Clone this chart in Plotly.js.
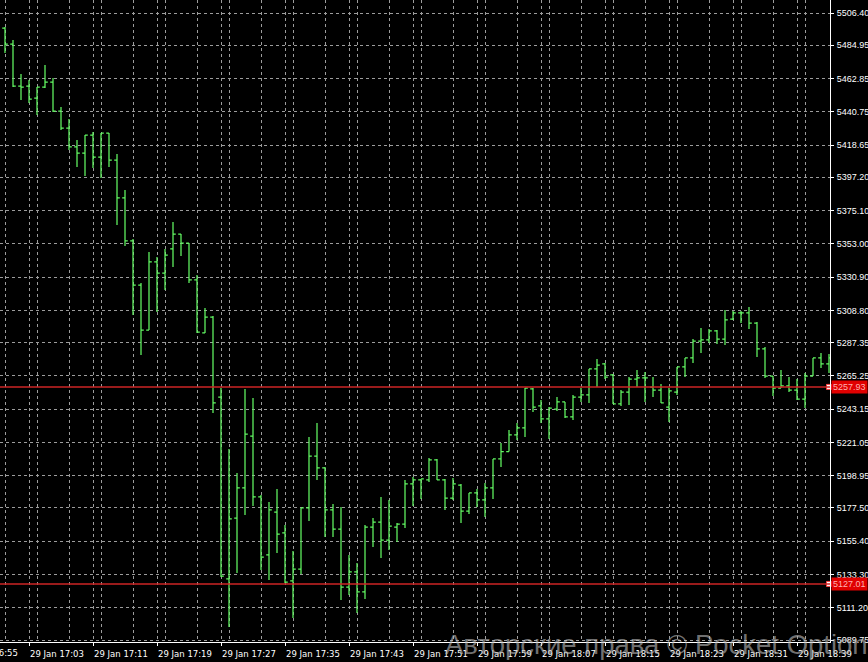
<!DOCTYPE html>
<html>
<head>
<meta charset="utf-8">
<script src="https://cdn.plot.ly/plotly-3.0.1.min.js"></script>
<style>html,body{margin:0;padding:0;background:#000;}#chart{width:868px;height:662px;}</style>
</head>
<body>
<div id="chart"></div>
<script>
const day = "2024-01-29";
const times = ["17:00","17:01","17:02","17:03","17:04","17:05","17:06","17:07","17:08","17:09",
"17:10","17:11","17:12","17:13","17:14","17:15","17:16","17:17","17:18","17:19",
"17:20","17:21","17:22","17:23","17:24","17:25","17:26","17:27","17:28","17:29",
"17:30","17:31","17:32","17:33","17:34","17:35","17:36","17:37","17:38","17:39",
"17:40","17:41","17:42","17:43","17:44","17:45","17:46","17:47","17:48","17:49",
"17:50","17:51","17:52","17:53","17:54","17:55","17:56","17:57","17:58","17:59",
"18:00","18:01","18:02","18:03","18:04","18:05","18:06","18:07","18:08","18:09",
"18:10","18:11","18:12","18:13","18:14","18:15","18:16","18:17","18:18","18:19",
"18:20","18:21","18:22","18:23","18:24","18:25","18:26","18:27","18:28","18:29",
"18:30","18:31","18:32","18:33","18:34","18:35","18:36","18:37","18:38","18:39",
"18:40","18:41","18:42","18:43"];

const open = [5496.43,5485.80,5457.89,5457.89,5449.92,5457.23,5460.55,5441.28,5429.98,5417.36,
5413.37,5425.33,5410.71,5426.66,5408.72,5383.47,5354.90,5325.65,5295.75,5340.94,
5333.63,5349.58,5359.54,5353.56,5328.98,5293.76,5304.39,5251.23,5130.29,5170.82,
5190.76,5225.31,5184.78,5146.24,5174.81,5160.86,5128.96,5136.93,5177.47,5211.99,
5204.05,5176.14,5163.51,5124.97,5134.94,5121.65,5164.84,5168.16,5156.20,5164.84,
5166.83,5193.42,5196.08,5196.08,5209.37,5196.08,5184.11,5192.75,5175.47,5187.44,
5182.79,5190.76,5210.03,5215.01,5225.98,5230.63,5256.55,5245.25,5236.63,5243.25,
5247.91,5237.94,5251.23,5252.56,5269.84,5273.16,5265.85,5246.58,5254.55,5263.19,
5263.86,5257.87,5255.88,5244.58,5254.55,5271.17,5277.15,5288.44,5289.11,5295.09,
5289.77,5303.06,5307.05,5307.05,5300.40,5283.13,5265.18,5257.21,5258.54,5255.88,
5249.90,5265.18,5277.15,5273.16];

const high = [5497.10,5488.46,5465.87,5461.88,5457.23,5471.85,5463.21,5443.94,5435.96,5422.01,
5425.33,5427.32,5426.66,5426.66,5412.70,5388.80,5356.22,5326.98,5347.58,5344.26,
5349.58,5367.52,5359.54,5353.56,5332.30,5310.37,5305.06,5257.21,5216.68,5200.73,
5256.55,5250.56,5186.11,5181.46,5190.10,5166.17,5148.89,5177.47,5224.65,5233.96,
5204.72,5180.13,5178.13,5146.24,5140.92,5166.17,5170.82,5184.78,5182.79,5167.50,
5196.08,5198.07,5196.74,5210.69,5210.03,5196.74,5197.40,5193.42,5187.44,5190.10,
5194.08,5210.03,5220.64,5229.34,5233.96,5257.21,5257.21,5249.24,5244.58,5251.23,
5247.91,5252.56,5257.21,5269.84,5276.48,5273.82,5266.51,5255.88,5264.52,5269.17,
5267.84,5264.52,5259.87,5257.21,5271.17,5277.15,5289.77,5297.08,5296.42,5295.75,
5309.04,5308.38,5308.38,5311.03,5301.07,5284.46,5265.18,5269.17,5264.52,5263.19,
5267.18,5277.15,5280.46,5279.78];

const low = [5479.82,5457.23,5448.59,5446.60,5438.62,5456.56,5440.61,5428.65,5415.36,5404.07,
5398.09,5403.40,5396.76,5404.07,5365.53,5351.57,5305.72,5279.14,5295.75,5307.71,
5322.33,5337.60,5344.93,5326.98,5293.76,5293.76,5240.60,5131.62,5098.39,5134.28,
5172.82,5178.80,5136.27,5129.62,5147.56,5127.63,5104.37,5133.61,5168.83,5196.08,
5158.20,5158.20,5116.33,5119.66,5107.70,5117.00,5151.55,5144.24,5149.56,5154.88,
5164.18,5178.80,5183.45,5194.75,5196.08,5176.14,5182.79,5167.50,5173.48,5178.13,
5171.49,5183.45,5204.72,5215.01,5222.64,5224.65,5241.26,5233.96,5223.31,5241.93,
5237.29,5235.95,5247.91,5247.25,5257.87,5263.19,5246.58,5245.25,5245.91,5257.87,
5247.91,5251.23,5247.25,5234.62,5252.56,5264.52,5273.82,5280.46,5287.11,5286.45,
5285.78,5302.40,5300.40,5296.42,5277.81,5263.86,5251.89,5257.21,5254.55,5249.24,
5243.92,5265.18,5270.50,5267.18];

const close = [5485.80,5457.89,5457.23,5449.25,5457.23,5460.55,5441.28,5429.98,5417.36,5413.37,
5425.33,5410.71,5426.66,5408.72,5383.47,5354.90,5325.65,5295.75,5340.94,5333.63,
5345.59,5359.54,5353.56,5328.98,5294.42,5304.39,5247.25,5132.28,5170.16,5190.76,
5226.64,5184.78,5144.90,5176.14,5160.19,5128.29,5136.93,5177.47,5211.99,5204.05,
5176.14,5163.51,5124.97,5134.94,5121.65,5164.84,5168.16,5156.20,5165.50,5166.83,
5193.42,5196.08,5196.74,5209.37,5196.08,5184.11,5193.42,5175.47,5187.44,5182.79,
5190.76,5210.03,5215.01,5225.98,5230.63,5257.21,5244.58,5236.63,5243.92,5247.91,
5237.94,5251.23,5252.56,5269.84,5272.49,5264.52,5246.58,5254.55,5263.19,5263.86,
5263.86,5255.88,5247.25,5255.22,5271.17,5277.15,5288.44,5289.11,5295.09,5289.77,
5302.40,5307.05,5307.05,5300.40,5283.13,5265.18,5257.21,5258.54,5255.88,5249.90,
5265.18,5277.15,5273.16,5277.15];

const yTicks = [5506.40,5484.95,5462.85,5440.75,5418.65,5397.20,5375.10,5353.00,5330.90,5308.80,
5287.35,5265.25,5243.15,5221.05,5198.95,5177.50,5155.40,5133.30,5111.20,5089.75];

const levels = [5257.93, 5127.01];
const firstLabel = "29 Jan 16:55";
const watermark = "Авторские права © Pocket Option";

const x = times.map(t => day + " " + t);
const GREEN = "#62f862";
const GRID = "#9c9c9c";
const FONT = "DejaVu Sans";
const YFONT = "Liberation Sans";

const traces = [{
  type: "ohlc",
  x: x, open: open, high: high, low: low, close: close,
  increasing: {line: {color: GREEN, width: 1.25}},
  decreasing: {line: {color: GREEN, width: 1.25}},
  tickwidth: 0.35,
  hoverinfo: "skip"
}, {
  type: "scatter", mode: "markers",
  x: levels.map(() => x[x.length - 1]), y: levels,
  marker: {symbol: "square", size: 5, color: "#ffffff", line: {color: "#ff4040", width: 1}},
  hoverinfo: "skip", cliponaxis: false
}];

const shapes = levels.map(v => ({
  type: "line", xref: "paper", x0: 0, x1: 1, yref: "y", y0: v, y1: v,
  line: {color: "#cc2424", width: 1.5}, layer: "above"
}));

const annotations = levels.map(v => ({
  xref: "paper", x: 1, xanchor: "left", xshift: 1,
  yref: "y", y: v, yanchor: "middle",
  text: v.toFixed(2), showarrow: false,
  bgcolor: "#e00000", borderpad: 1,
  font: {family: YFONT, size: 9, color: "#ffb0b0"}
}));
annotations.push({
  xref: "paper", x: 0, xanchor: "left", xshift: -38,
  yref: "paper", y: 0, yanchor: "top", yshift: -4,
  text: firstLabel, showarrow: false,
  font: {family: FONT, size: 8.5, color: "#ffffff"}
});
annotations.push({
  xref: "paper", x: 1, xanchor: "right", xshift: 40,
  yref: "paper", y: 0, yanchor: "middle", yshift: -2,
  text: watermark, showarrow: false,
  font: {family: "Liberation Sans", size: 27.5, color: "rgba(190,190,190,0.6)"}
});

const layout = {
  width: 868, height: 662,
  paper_bgcolor: "#000000", plot_bgcolor: "#000000",
  margin: {l: 0, r: 38, t: 0, b: 20},
  showlegend: false,
  hovermode: false,
  xaxis: {
    type: "date",
    range: [day + " 16:59:22.5", day + " 18:43:07.5"],
    tick0: day + " 16:55", dtick: 480000,
    tickformat: "%d %b %H:%M",
    ticks: "outside", ticklen: 3, tickcolor: "#ffffff",
    showline: true, linecolor: "#ffffff", linewidth: 1,
    showgrid: true, gridcolor: GRID, griddash: "3px,3px", gridwidth: 1,
    minor: {dtick: 240000, showgrid: true, gridcolor: GRID, griddash: "3px,3px", gridwidth: 1, ticks: ""},
    ticklabelshift: 28, ticklabelstandoff: 1,
    tickfont: {family: FONT, size: 8.5, color: "#ffffff"},
    rangeslider: {visible: false},
    zeroline: false, fixedrange: true
  },
  yaxis: {
    side: "right",
    range: [5088.42, 5515.04],
    tickmode: "array", tickvals: yTicks, ticktext: yTicks.map(v => v.toFixed(2)),
    ticks: "outside", ticklen: 3, tickcolor: "#ffffff",
    ticklabelstandoff: 1,
    showline: true, linecolor: "#ffffff", linewidth: 1,
    showgrid: true, gridcolor: GRID, griddash: "3px,3px", gridwidth: 1,
    tickfont: {family: YFONT, size: 9, color: "#ffffff"},
    zeroline: false, fixedrange: true
  },
  shapes: shapes,
  annotations: annotations
};

Plotly.newPlot("chart", traces, layout, {displayModeBar: false, staticPlot: true});
</script>
</body>
</html>
